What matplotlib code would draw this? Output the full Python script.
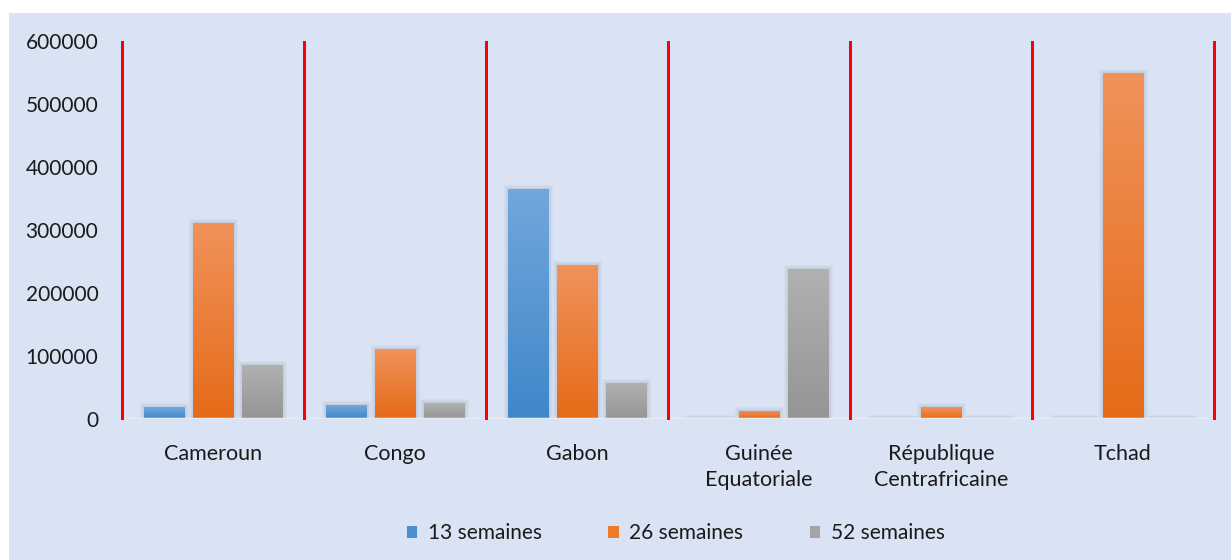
import matplotlib
matplotlib.use("Agg")
import matplotlib.pyplot as plt
import numpy as np
from matplotlib.patches import Rectangle, Patch
from matplotlib.colors import LinearSegmentedColormap

categories = ["Cameroun", "Congo", "Gabon", "Guinée\nEquatoriale", "République\nCentrafricaine", "Tchad"]
series_names = ["13 semaines", "26 semaines", "52 semaines"]
s13 = [19000, 22000, 365000, 0, 0, 0]
s26 = [311000, 111000, 244000, 13000, 19000, 549000]
s52 = [86000, 25000, 57000, 238000, 0, 0]
yticks = [0, 100000, 200000, 300000, 400000, 500000, 600000]

top_cols = ["#72a7dd", "#f1925b", "#b1b1b1"]
bot_cols = ["#3f87c8", "#e56b18", "#959595"]
legend_cols = ["#4a8fd0", "#ee7a2c", "#a5a5a5"]

plt.rcParams['font.family'] = ['Lato', 'DejaVu Sans']
W, H = 1231, 560
fig = plt.figure(figsize=(W/100, H/100), dpi=100, facecolor="white")
bgc = "#dae3f3"
fig.patches.append(Rectangle((9/W, 0), 1 - 9/W, 1 - 13/H, transform=fig.transFigure,
                             facecolor=bgc, edgecolor="none", zorder=-10))

ax = fig.add_axes([122/W, 1 - 419/H, (1214-122)/W, (419-41)/H])
ax.set_zorder(2)
ax.set_facecolor("none")
for s in ax.spines.values():
    s.set_visible(False)

n = len(categories)
x = np.arange(n)
step = 49/182
bw = 41/182
series = [s13, s26, s52]
px = 1/182  # one pixel in x data units
for i, vals in enumerate(series):
    cmap = LinearSegmentedColormap.from_list("g%d" % i, [bot_cols[i], top_cols[i]])
    bars = ax.bar(x + (i-1)*step, vals, width=bw, color="none", edgecolor="none", zorder=3)
    grad = np.linspace(0, 1, 256).reshape(-1, 1)
    for b, v in zip(bars, vals):
        x0 = b.get_x(); x1 = x0 + b.get_width()
        for k in range(1, 5):
            ax.add_patch(Rectangle((x0 - k*px, 0), b.get_width() + 2*k*px, v + k*1600,
                                   facecolor="#5c6f90", alpha=0.045, edgecolor="none", zorder=2))
        if v <= 0:
            continue
        im = ax.imshow(grad, extent=(x0, x1, 0, v), origin="lower", aspect="auto",
                       cmap=cmap, zorder=3)
        im.set_clip_path(b)

ax.set_xlim(-0.5, n - 0.5)
ax.set_ylim(0, 600000)
ax.axhline(0, color="#e6ebf4", lw=2.5, zorder=4)
for b in np.arange(n + 1) - 0.5:
    ax.plot([b, b], [0, 600000], color="#ff0000", lw=2.0, zorder=5, clip_on=False,
            solid_capstyle="butt", antialiased=False)

ax.set_yticks(yticks)
ax.set_yticklabels([str(t) for t in yticks], fontsize=15, color="#1a1a1a")
ax.tick_params(axis="y", length=0, pad=17)
ax.set_xticks(x)
ax.set_xticklabels(categories, fontsize=15.5, color="#1a1a1a", linespacing=1.4)
ax.tick_params(axis="x", length=0, pad=18)

handles = [Patch(facecolor=c, edgecolor="none") for c in legend_cols]
fig.legend(handles, series_names, loc="center", bbox_to_anchor=(0.549, 1 - 533/H), ncol=3,
           frameon=False, fontsize=15, handlelength=0.5, handleheight=0.5, handletextpad=0.5,
           columnspacing=3.2, labelcolor="#1a1a1a")

fig.savefig("out.png", dpi=100, facecolor="white")
